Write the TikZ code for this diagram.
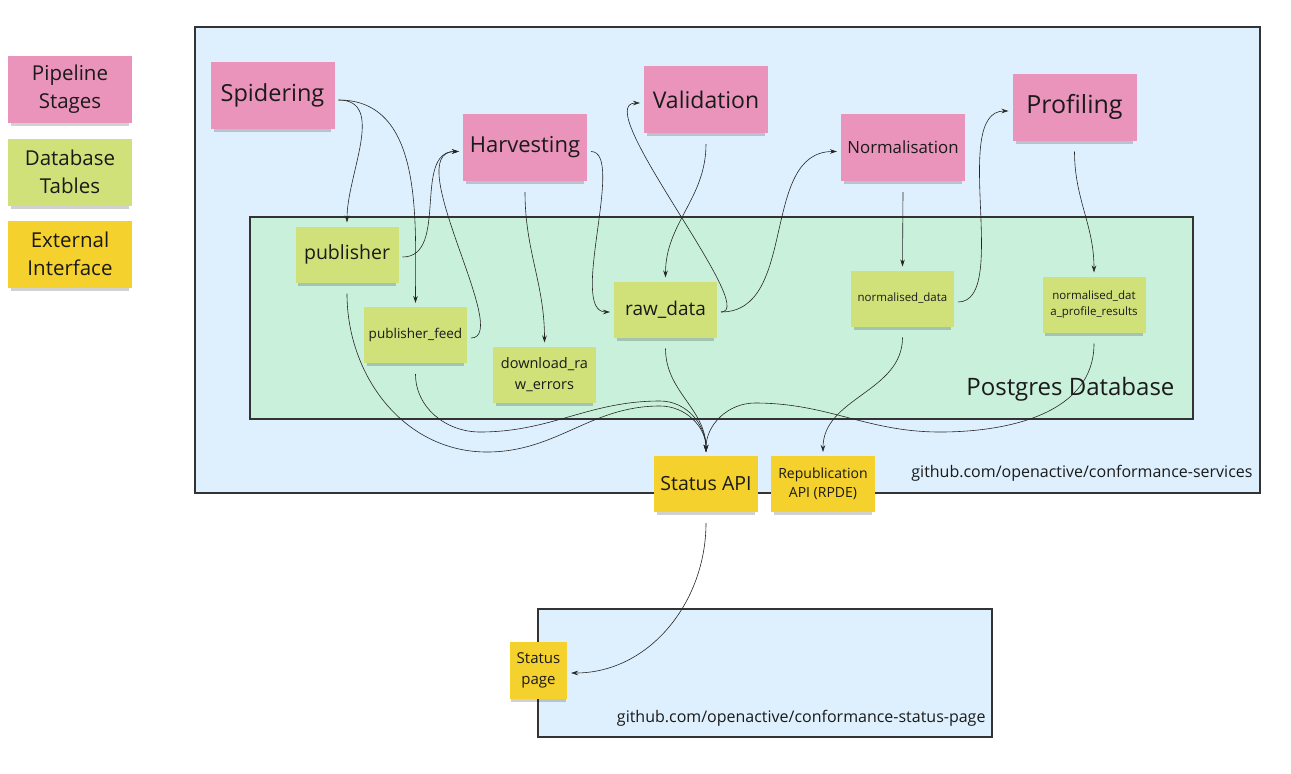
\documentclass[tikz,border=0pt]{standalone}
\usepackage{fontspec}
\setmainfont{Open Sans}
\usepackage{tikz}
\usetikzlibrary{arrows.meta,positioning,shadows}
\definecolor{stagepink}{HTML}{EA94BB}
\definecolor{tablelime}{HTML}{D0E17A}
\definecolor{extyellow}{HTML}{F5D12E}
\definecolor{frameblue}{HTML}{DEF0FD}
\definecolor{dbmint}{HTML}{C9F0DB}
\definecolor{inkc}{HTML}{1A1A1A}
\newcommand{\notefont}[2]{\fontsize{#1}{#2}\selectfont}
\tikzset{
  note/.style={inner sep=0pt,outer sep=4pt,align=center,text=inkc,
    general shadow={fill=black,opacity=0.18,shadow yshift=-5pt,shadow scale=0.95}},
  stage/.style={note,fill=stagepink,minimum width=124pt,minimum height=67pt,font=\notefont{23.5}{28}},
  tbl/.style={note,fill=tablelime,minimum width=103pt,minimum height=56pt},
  ext/.style={note,fill=extyellow,minimum width=104pt,minimum height=56pt},
  frame/.style={draw=black!80,line width=1.1pt},
  link/.style={-{Stealth[length=7pt,width=4.5pt]},line width=0.6pt,draw=black!85},
}
\begin{document}
\begin{tikzpicture}[x=1pt,y=-1pt]
\useasboundingbox (0,0) rectangle (1291,774);
\fill[white] (0,0) rectangle (1291,774);
% 枠
\draw[frame,fill=frameblue] (195,27) rectangle (1260,493);%conformance-services
\draw[frame,fill=dbmint] (250,217) rectangle (1193,419);%Postgres
\draw[frame,fill=frameblue] (538,609) rectangle (992,737);%status-page
\node[anchor=east,text=inkc,font=\notefont{24}{28}] (dblabel) at (1178,389) {Postgres Database};
\node[anchor=east,text=inkc,font=\notefont{16}{20}] (svclabel) at (1256,473) {github.com/openactive/conformance-services};
\node[anchor=east,text=inkc,font=\notefont{16}{20}] (pagelabel) at (989,718) {github.com/openactive/conformance-status-page};
% 凡例
\foreach \col/\txt/\ypos/\nm in {stagepink/{Pipeline\\Stages}/89/legstage,
  tablelime/{Database\\Tables}/172/legtable, extyellow/{External\\Interface}/254/legext}
  \node[note,fill=\col,minimum width=124pt,minimum height=67pt,font=\notefont{20.5}{28}] (\nm) at (70,\ypos) {\txt};
% 処理段階
\node[stage] (spider) at (272.5,95.5) {Spidering};
\node[stage,font=\notefont{22}{28}] (harvest) at (525,147.5) {Harvesting};
\node[stage,font=\notefont{23}{28}] (valid) at (706,99.5) {Validation};
\node[stage,font=\notefont{16.8}{20}] (normal) at (903,147.5) {Normalisation};
\node[stage,font=\notefont{25}{28}] (profile) at (1074.5,107) {Profiling};
% テーブル
\node[tbl,font=\notefont{19.5}{22}] (publisher) at (347,254.5) {publisher};
\node[tbl,font=\notefont{13.5}{18}] (pubfeed) at (415.5,335) {publisher\_feed};
\node[tbl,font=\notefont{14.5}{21}] (dlerrors) at (544.5,374.5) {download\_ra\\w\_errors};
\node[tbl,font=\notefont{19}{22}] (rawdata) at (665.5,309.5) {raw\_data};
\node[tbl,font=\notefont{11.5}{15}] (normdata) at (902.5,298.5) {normalised\_data};
\node[tbl,font=\notefont{11.5}{16}] (profres) at (1094,304.5) {normalised\_dat\\a\_profile\_results};
% 外部インターフェース
\node[ext,font=\notefont{19.5}{22}] (statusapi) at (706,484) {Status API};
\node[ext,font=\notefont{14}{19}] (repub) at (823,484) {Republication\\API (RPDE)};
\node[ext,minimum width=57pt,minimum height=57pt,font=\notefont{15}{21}] (statuspage) at (538.5,670.5) {Status\\page};
% 矢印
\draw[link] ([yshift=-4.5pt]spider.east) to[out=0,in=90] (publisher.north);
\draw[link] ([yshift=-4.5pt]spider.east) to[out=0,in=90] (pubfeed.north);
\draw[link] ([yshift=-2.5pt]publisher.east) to[out=0,in=180] ([yshift=-4pt]harvest.west);
\draw[link] ([yshift=-3pt]pubfeed.east) .. controls +(42,0) and +(-60,0) .. ([yshift=-4pt]harvest.west);
\draw[link] ([yshift=-7pt]harvest.south) to[out=-90,in=90] (dlerrors.north);
\draw[link] ([yshift=-4pt]harvest.east) .. controls +(35,0) and +(-42,0) .. ([yshift=-2.5pt]rawdata.west);
\draw[link] ([yshift=-7pt]valid.south) to[out=-90,in=90] (rawdata.north);
\draw[link] ([yshift=-2.5pt]rawdata.east) .. controls +(40,0) and +(-52,0) .. ([yshift=-3.5pt]valid.west);
\draw[link] ([yshift=-2.5pt]rawdata.east) to[out=0,in=180] ([yshift=-4pt]normal.west);
\draw[link] ([yshift=-7pt]normal.south) -- (normdata.north);
\draw[link] ([yshift=-3.5pt]normdata.east) .. controls +(53,0) and +(-59,0) .. ([yshift=-4pt]profile.west);
\draw[link] ([yshift=-7pt]profile.south) to[out=-90,in=90] (profres.north);
\draw[link] ([yshift=-7pt]publisher.south) to[out=-90,in=180] (487,452) to[out=0,in=180] (660,406) to[out=0,in=90] (statusapi.north);
\draw[link] ([yshift=-7pt]pubfeed.south) to[out=-90,in=180] (480,432) to[out=0,in=180] (660,401) to[out=0,in=90] (statusapi.north);
\draw[link] ([yshift=-7pt]rawdata.south) to[out=-90,in=90] (statusapi.north);
\draw[link] ([yshift=-7pt]profres.south) to[out=-90,in=0] (940,432) to[out=180,in=0] (755,403) to[out=180,in=90] (statusapi.north);
\draw[link] ([yshift=-7pt]normdata.south) to[out=-90,in=90] (repub.north);
\draw[link] ([yshift=-7pt]statusapi.south) to[out=-90,in=0] ([yshift=-2.5pt]statuspage.east);
\end{tikzpicture}
\end{document}
